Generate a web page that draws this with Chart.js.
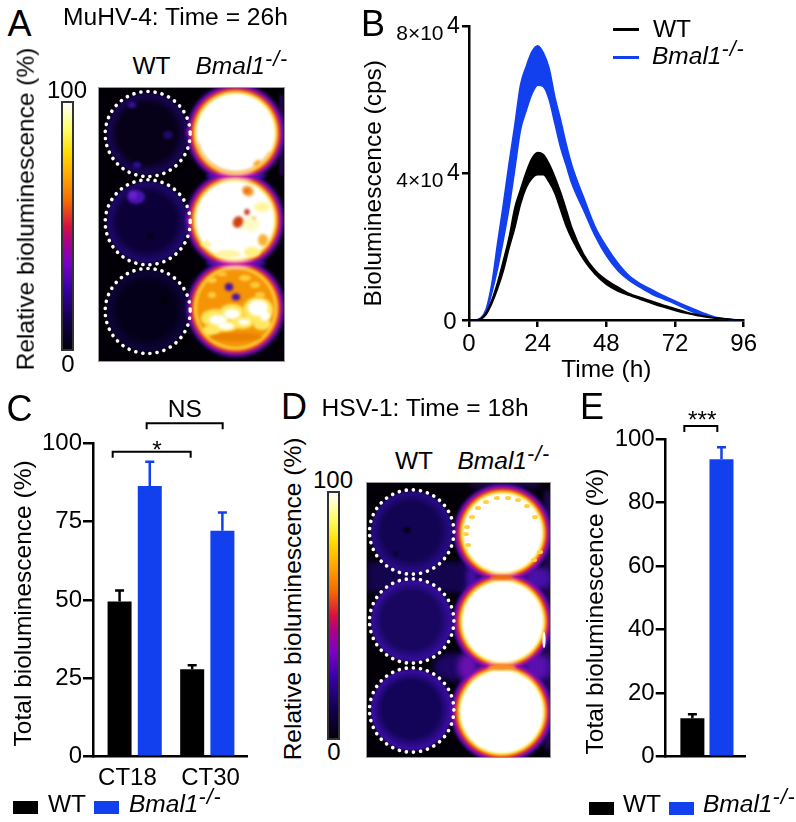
<!DOCTYPE html>
<html>
<head>
<meta charset="utf-8">
<title>Bmal1 bioluminescence</title>
<script src="https://cdn.jsdelivr.net/npm/chart.js@4"></script>
<style>
  html, body { margin: 0; padding: 0; background: #fff; }
  #page { position: relative; width: 796px; height: 822px; overflow: hidden; font-family: "Liberation Sans", Arial, sans-serif; color: #000; }
  #page canvas { position: absolute; }
  .txt { position: absolute; white-space: nowrap; line-height: 1; }
  .txt sup { position: relative; top: -0.4em; vertical-align: baseline; font-size: 0.88em; line-height: 0; letter-spacing: 1px; }
  .bar, .swatch, .line { position: absolute; }
  .bar { box-sizing: border-box; border: 2px solid #333; }
</style>
</head>
<body>
<div id="page"></div>
<script>
// panel B : 時間(h)と上下のバンド
const time = [0, 2, 4, 6, 8, 10, 12, 14, 16, 18, 20, 22, 24, 26, 28, 30, 32, 34, 36, 40, 44, 48, 52, 56, 60, 64, 68, 72, 76, 80, 84, 88, 92, 96];
const wtUpper = [0, 0, 300, 2000, 5500, 10300, 16200, 22500, 30500, 35500, 40300, 44000, 45600, 45000, 42500, 39000, 34800, 30000, 25000, 18000, 13600, 10900, 9000, 7200, 6100, 5100, 4000, 3100, 2150, 1400, 850, 450, 150, 0];
const wtLower = [0, 0, 200, 1500, 4500, 8500, 13300, 19500, 25000, 31500, 36000, 38500, 39500, 39500, 37500, 34500, 30000, 25500, 22000, 16500, 12500, 9700, 7900, 6700, 5600, 4500, 3500, 2600, 1800, 1150, 700, 350, 100, 0];
const koUpper = [0, 0, 500, 3000, 10000, 21000, 31500, 42640, 53000, 64000, 69000, 73000, 74640, 72700, 68500, 60770, 54500, 47800, 42000, 33500, 25500, 20000, 15500, 12000, 9800, 8200, 6600, 5200, 3800, 2500, 1300, 450, 120, 0];
const koLower = [0, 0, 300, 2200, 7500, 14000, 21800, 30500, 41000, 51700, 57000, 61500, 63900, 63500, 60000, 53500, 47000, 42000, 37000, 30000, 23000, 17500, 13500, 10800, 8800, 7000, 5700, 4400, 3000, 1600, 800, 350, 100, 0];
const timeTicks = [0, 24, 48, 72, 96];
const cpsTicks = [0, 40000, 80000];

// panel C
const cGroups = ['CT18', 'CT30'];
const cWt = [49.5, 27.9];
const cWtTop = [53, 29.2];
const cKo = [86.4, 72.1];
const cKoTop = [94.1, 77.9];
const cTicks = [0, 25, 50, 75, 100];

// panel E
const eWt = [12.1];
const eWtTop = [13.4];
const eKo = [93.6];
const eKoTop = [97.4];
const eTicks = [0, 20, 40, 60, 80, 100];

const BLACK = '#000000';
const BLUE = '#1340ee';
const KO_LABEL = '<i>Bmal1<sup>-/-</sup></i>';

// fire系カラーマップ
const fireStops = [[0, '#02000c'], [0.12, '#14004e'], [0.25, '#3a00a8'], [0.35, '#7a00c8'], [0.43, '#a80090'], [0.5, '#d81040'],
  [0.6, '#f56a00'], [0.7, '#ffa500'], [0.8, '#ffdc00'], [0.9, '#ffff70'], [1, '#ffffff']];

const page = document.getElementById('page');

function addText(html, x, base, size, center) {
  const el = document.createElement('div');
  el.className = 'txt';
  el.innerHTML = html;
  el.style.fontSize = size + 'px';
  el.style.left = x + 'px';
  el.style.top = (base - size * 0.8465) + 'px';
  if (center) el.style.transform = 'translateX(-50%)';
  page.appendChild(el);
}

// 回転した軸ラベル(x, y は中心)
function addRotated(html, x, y, size) {
  const el = document.createElement('div');
  el.className = 'txt';
  el.innerHTML = html;
  el.style.fontSize = size + 'px';
  el.style.left = x + 'px';
  el.style.top = y + 'px';
  el.style.transform = 'translate(-50%,-50%) rotate(-90deg)';
  page.appendChild(el);
}

function addBox(cls, x, y, w, h, bg) {
  const el = document.createElement('div');
  el.className = cls;
  el.style.cssText = `left:${x}px;top:${y}px;width:${w}px;height:${h}px;background:${bg}`;
  page.appendChild(el);
}

function addCanvas(x, y, w, h) {
  const c = document.createElement('canvas');
  c.width = w;
  c.height = h;
  c.style.left = x + 'px';
  c.style.top = y + 'px';
  page.appendChild(c);
  return c;
}

Chart.defaults.font.family = '"Liberation Sans", Arial, sans-serif';
Chart.defaults.font.size = 24.5;
Chart.defaults.color = '#000';
Chart.defaults.animation = false;
Chart.defaults.responsive = false;
Chart.defaults.plugins.legend.display = false;
Chart.defaults.plugins.tooltip.enabled = false;

// エラーバー(上側のみ)
const errorBars = {
  id: 'errorBars',
  afterDatasetsDraw(chart) {
    const { ctx, scales: { y } } = chart;
    chart.data.datasets.forEach((ds, i) => {
      chart.getDatasetMeta(i).data.forEach((bar, k) => {
        const top = y.getPixelForValue(ds.errTop[k]);
        ctx.save();
        ctx.strokeStyle = ds.backgroundColor;
        ctx.lineWidth = 2.5;
        ctx.beginPath();
        ctx.moveTo(bar.x, bar.y);
        ctx.lineTo(bar.x, top);
        ctx.moveTo(bar.x - 4.5, top);
        ctx.lineTo(bar.x + 4.5, top);
        ctx.stroke();
        ctx.restore();
      });
    });
  },
};

// 有意差のブラケット(スケールの値で指定)
const brackets = {
  id: 'brackets',
  afterDraw(chart, args, opts) {
    const { ctx, scales: { x, y } } = chart;
    opts.items.forEach((b) => {
      const x1 = x.getPixelForValue(b.from);
      const x2 = x.getPixelForValue(b.to);
      const py = y.getPixelForValue(b.level);
      ctx.save();
      ctx.strokeStyle = '#000';
      ctx.lineWidth = 2;
      ctx.beginPath();
      ctx.moveTo(x1, py + 6);
      ctx.lineTo(x1, py);
      ctx.lineTo(x2, py);
      ctx.lineTo(x2, py + 6);
      ctx.stroke();
      ctx.fillStyle = '#000';
      ctx.font = '24.5px "Liberation Sans", Arial, sans-serif';
      ctx.textAlign = 'center';
      ctx.textBaseline = 'alphabetic';
      ctx.fillText(b.label, x.getPixelForValue(b.mid), py + b.gap);
      ctx.restore();
    });
  },
};

// panel B の縦軸ラベル : 8×10 の右上に大きい 4 を載せる
const powerTicks = {
  id: 'powerTicks',
  afterDraw(chart) {
    const { ctx, scales: { y } } = chart;
    const left = chart.chartArea.left;
    ctx.save();
    ctx.fillStyle = '#000';
    ctx.textBaseline = 'alphabetic';
    y.ticks.forEach((t) => {
      const py = y.getPixelForValue(t.value);
      if (t.value === 0) {
        ctx.textAlign = 'right';
        ctx.font = '24px "Liberation Sans", Arial, sans-serif';
        ctx.fillText('0', left - 12.5, py + 8.5);
        return;
      }
      ctx.textAlign = 'right';
      ctx.font = '21px "Liberation Sans", Arial, sans-serif';
      ctx.fillText((t.value / 10000) + '×10', left - 25.5, py + 14);
      ctx.textAlign = 'left';
      ctx.font = '23px "Liberation Sans", Arial, sans-serif';
      ctx.fillText('4', left - 22, py + 7);
    });
    ctx.restore();
  },
};

function yAxisBase(ticks, width, tickLen) {
  return {
    min: ticks[0],
    max: ticks[ticks.length - 1],
    afterBuildTicks: (axis) => { axis.ticks = ticks.map((v) => ({ value: v })); },
    afterFit: (axis) => { axis.width = width; },
    border: { color: '#000', width: 2.5 },
    grid: { drawOnChartArea: false, color: '#000', lineWidth: 2.5, tickLength: tickLen },
  };
}

// ---- panel B ----
function bandSet(upper, lower, color, order) {
  const base = { borderColor: color, backgroundColor: color, borderWidth: 1.5, pointRadius: 0, cubicInterpolationMode: 'monotone', order: order, clip: false };
  return [
    { ...base, label: 'upper', data: time.map((t, i) => ({ x: t, y: upper[i] })), fill: '+1' },
    { ...base, label: 'lower', data: time.map((t, i) => ({ x: t, y: lower[i] })), fill: false },
  ];
}

new Chart(addCanvas(360, 0, 400, 385), {
  type: 'line',
  data: { datasets: [...bandSet(koUpper, koLower, BLUE, 2), ...bandSet(wtUpper, wtLower, BLACK, 1)] },
  options: {
    layout: { autoPadding: false, padding: { top: 26, right: 14.3 } },
    scales: {
      x: {
        type: 'linear',
        min: 0,
        max: 96,
        afterBuildTicks: (axis) => { axis.ticks = timeTicks.map((v) => ({ value: v })); },
        afterFit: (axis) => { axis.height = 65; },
        border: { color: '#000', width: 2.5 },
        grid: { drawOnChartArea: false, color: '#000', lineWidth: 2.5, tickLength: 7 },
        ticks: { padding: 3, maxRotation: 0, font: { size: 24 } },
        title: { display: true, text: 'Time (h)', padding: { top: 0, bottom: 0 } },
      },
      // 末尾の空白はラベルを下へずらすため
      y: {
        ...yAxisBase(cpsTicks, 109, 7),
        ticks: { display: false },
        title: { display: true, text: 'Bioluminescence (cps)   ', padding: { top: 0, bottom: 0 } },
      },
    },
  },
  plugins: [powerTicks],
});

// ---- panel C ----
function barSet(values, tops, color, label) {
  return {
    label: label,
    data: values.map((v, i) => ({ x: i, y: v })),
    errTop: tops,
    backgroundColor: color,
    categoryPercentage: 0.832,
    barPercentage: 0.795,
  };
}

new Chart(addCanvas(0, 395, 260, 427), {
  type: 'bar',
  data: { datasets: [barSet(cWt, cWtTop, BLACK, 'WT'), barSet(cKo, cKoTop, BLUE, 'Bmal1-/-')] },
  options: {
    layout: { autoPadding: false, padding: { top: 48.3, right: 13 } },
    scales: {
      x: {
        type: 'linear',
        offset: false,
        min: -0.574,
        max: 1.547,
        afterBuildTicks: (axis) => { axis.ticks = [-0.1, 1.044].map((v) => ({ value: v })); },
        afterFit: (axis) => { axis.height = 65.3; },
        border: { color: '#000', width: 2.5 },
        grid: { offset: false, drawOnChartArea: false, drawTicks: false },
        ticks: { padding: 7, maxRotation: 0, font: { size: 24 }, callback: (v, i) => cGroups[i] },
      },
      y: {
        ...yAxisBase(cTicks, 93, 10),
        ticks: { padding: 1, font: { size: 24 } },
        title: { display: true, text: 'Total bioluminescence (%) ', padding: { top: 10, bottom: 0 } },
      },
    },
    plugins: {
      brackets: {
        items: [
          { from: 0.165, to: 1.212, mid: 0.69, level: 106.4, label: 'NS', gap: -6.6 },
          { from: -0.303, to: 0.771, mid: 0.306, level: 97.3, label: '*', gap: 6 },
        ],
      },
    },
  },
  plugins: [errorBars, brackets],
});

// ---- panel E ----
const eSets = [barSet(eWt, eWtTop, BLACK, 'WT'), barSet(eKo, eKoTop, BLUE, 'Bmal1-/-')];
eSets.forEach((s) => { s.categoryPercentage = 0.734; s.barPercentage = 0.825; });

new Chart(addCanvas(570, 395, 226, 427), {
  type: 'bar',
  data: { datasets: eSets },
  options: {
    layout: { autoPadding: false, padding: { top: 44, right: 51 } },
    scales: {
      x: {
        type: 'linear',
        offset: false,
        min: -0.52,
        max: 0.48,
        afterBuildTicks: (axis) => { axis.ticks = [{ value: 0 }]; },
        afterFit: (axis) => { axis.height = 65.3; },
        border: { color: '#000', width: 2.5 },
        grid: { offset: false, drawOnChartArea: false, drawTicks: false },
        ticks: { display: false },
      },
      y: {
        ...yAxisBase(eTicks, 95.7, 10),
        ticks: { padding: 1, font: { size: 24 } },
        title: { display: true, text: 'Total bioluminescence (%)    ', padding: { top: 12, bottom: 0 } },
      },
    },
    plugins: {
      brackets: { items: [{ from: -0.285, to: 0.131, mid: -0.058, level: 104.1, label: '***', gap: 1.7 }] },
    },
  },
  plugins: [errorBars, brackets],
});

// ---- 発光プレートの画像(A, D) ----
function fireCss() {
  return 'linear-gradient(to top,' + fireStops.map((s) => `${s[1]} ${s[0] * 100}%`).join(',') + ')';
}

function blob(ctx, x, y, rx, ry, color, rot) {
  ctx.fillStyle = color;
  ctx.beginPath();
  ctx.ellipse(x, y, rx, ry, rot || 0, 0, Math.PI * 2);
  ctx.fill();
}

function dimWell(ctx, x, y, r, mid, edge) {
  const g = ctx.createRadialGradient(x - 3, y - 3, 0, x, y, r);
  g.addColorStop(0, mid);
  g.addColorStop(0.7, mid);
  g.addColorStop(1, edge);
  ctx.fillStyle = g;
  ctx.beginPath();
  ctx.arc(x, y, r, 0, Math.PI * 2);
  ctx.fill();
}

// coreEnd より外側が 黄→橙→赤→紫 の縁になる
function brightWell(ctx, x, y, r, core) {
  const R = r + 9;
  const at = (d) => (r + d) / R;
  const g = ctx.createRadialGradient(x, y, 0, x, y, R);
  g.addColorStop(0, core);
  g.addColorStop(at(-3.5), core);
  g.addColorStop(at(-2), '#fff07a');
  g.addColorStop(at(-0.5), '#ffb000');
  g.addColorStop(at(1), '#f0600c');
  g.addColorStop(at(2.5), '#c81060');
  g.addColorStop(at(5), '#6a10c8');
  g.addColorStop(1, 'rgba(50,0,140,0)');
  ctx.fillStyle = g;
  ctx.beginPath();
  ctx.arc(x, y, R, 0, Math.PI * 2);
  ctx.fill();
}

function dashedRing(ctx, x, y, r) {
  ctx.strokeStyle = '#fff';
  ctx.lineWidth = 3.6;
  ctx.lineCap = 'round';
  ctx.setLineDash([0.1, 7.05]);
  ctx.beginPath();
  ctx.arc(x, y, r, 0, Math.PI * 2);
  ctx.stroke();
  ctx.setLineDash([]);
}

function paintPlateA() {
  const ctx = addCanvas(98, 87, 187, 275).getContext('2d');
  ctx.fillStyle = '#020006';
  ctx.fillRect(0, 0, 187, 275);
  ctx.translate(-98, -87);
  ctx.filter = 'blur(1.5px)';

  dimWell(ctx, 147.7, 134, 41, '#060018', '#1c0660');
  dimWell(ctx, 147.7, 222.3, 41, '#0c0038', '#220a78');
  dimWell(ctx, 147.7, 311, 41, '#04001a', '#100440');
  blob(ctx, 132, 105, 4, 3, '#3a10a0');
  blob(ctx, 137, 165, 4, 3, '#3010a0');
  blob(ctx, 168, 135, 5, 4, '#220a70');
  blob(ctx, 136, 197, 9, 7, '#4a14b0');
  blob(ctx, 133, 195, 4, 4, '#6a20d0');
  blob(ctx, 188, 132, 1.5, 3, '#c01060');
  blob(ctx, 188, 220, 1.5, 3, '#c01060');
  blob(ctx, 150, 236, 3, 3, '#030010');
  blob(ctx, 165, 300, 4, 4, '#020008');

  // 右端の帯とウェル間のにじみ
  ctx.fillStyle = 'rgba(80,16,176,0.55)';
  ctx.fillRect(280, 95, 3, 80);
  blob(ctx, 236, 176, 30, 5, '#3410a0');
  blob(ctx, 236, 263, 30, 5, '#3410a0');

  ctx.globalCompositeOperation = 'lighten';
  brightWell(ctx, 235.7, 133, 42, '#ffffff');
  brightWell(ctx, 235, 220, 42, '#ffffff');
  brightWell(ctx, 235.7, 308, 42, '#f59400');
  ctx.globalCompositeOperation = 'source-over';

  // 1段目の内側の縁
  ctx.strokeStyle = 'rgba(245,140,20,0.8)';
  ctx.lineWidth = 1.5;
  ctx.beginPath();
  ctx.arc(235.7, 133, 39, 0.5, 2.9);
  ctx.stroke();
  blob(ctx, 257, 163, 4, 2, '#f8a010', -0.6);

  // 2段目の斑点
  blob(ctx, 248, 191, 6, 5, '#f0a030', 0.5);
  blob(ctx, 247, 191, 3, 2, '#f06010');
  blob(ctx, 262, 207, 8, 5, '#fff6a0');
  blob(ctx, 250, 224, 10, 7, '#fffbc8');
  blob(ctx, 263, 240, 5, 6, '#f8b030');
  blob(ctx, 238, 222, 5, 6, '#d04010', 0.5);
  blob(ctx, 247, 212, 2.6, 3, '#c03010');
  blob(ctx, 254, 218, 1.4, 1.4, '#f0a020');
  blob(ctx, 228, 254, 13, 4, '#fff4a0');
  blob(ctx, 252, 252, 8, 5, '#fff080');
  blob(ctx, 206, 244, 5, 3, '#fff090');

  // 3段目 : 橙の上に白〜黄の塊
  [[215, 318, 14, 9], [232, 312, 12, 8], [258, 310, 15, 13], [242, 322, 12, 7], [212, 330, 9, 6], [225, 326, 12, 6], [262, 324, 9, 6]].forEach((p) => {
    blob(ctx, p[0], p[1], p[2], p[3], '#ffe860');
  });
  [[218, 320, 9, 5], [232, 314, 8, 5], [258, 308, 10, 8], [226, 326, 8, 3.5], [244, 322, 6, 3], [265, 316, 5, 5]].forEach((p) => {
    blob(ctx, p[0], p[1], p[2], p[3], '#ffffff');
  });
  [[212, 280, 5, 3], [222, 274, 5, 2], [245, 278, 6, 3], [255, 285, 5, 3], [212, 295, 4, 3], [260, 295, 5, 3]].forEach((p) => {
    blob(ctx, p[0], p[1], p[2], p[3], '#ffd040');
  });
  blob(ctx, 236, 337, 26, 4, '#e88000');
  blob(ctx, 229, 287, 4.2, 4, '#4a10a8');
  blob(ctx, 236, 297, 4.2, 3.6, '#4a10a8');
  ctx.filter = 'none';

  dashedRing(ctx, 147.7, 134, 42.5);
  dashedRing(ctx, 147.7, 222.3, 42.5);
  dashedRing(ctx, 147.7, 311, 42.5);

  ctx.strokeStyle = '#999';
  ctx.lineWidth = 1;
  ctx.strokeRect(98.5, 87.5, 186, 274);
}

function paintPlateD() {
  const ctx = addCanvas(366, 482, 185, 276).getContext('2d');
  ctx.fillStyle = '#020006';
  ctx.fillRect(0, 0, 185, 276);
  ctx.translate(-366, -482);
  ctx.filter = 'blur(3px)';

  // ウェル間のにじみ
  blob(ctx, 455, 578, 22, 12, '#14044e');
  blob(ctx, 455, 667, 22, 14, '#1c0666');
  blob(ctx, 468, 578, 10, 12, '#4a10b0');
  blob(ctx, 468, 667, 10, 14, '#6a10b0');
  blob(ctx, 538, 578, 14, 12, '#4a10a8');
  blob(ctx, 538, 667, 14, 14, '#5a10b0');
  ctx.fillStyle = '#3a10a0';
  ctx.fillRect(546, 490, 4, 260);
  ctx.fillRect(470, 483, 70, 3);
  ctx.fillStyle = '#14044e';
  ctx.fillRect(367, 562, 100, 30);

  ctx.filter = 'blur(1px)';
  dimWell(ctx, 411.7, 532, 41, '#120452', '#2c0c90');
  dimWell(ctx, 411.7, 621, 41, '#180660', '#3a0ea8');
  dimWell(ctx, 411.7, 710, 41, '#13045a', '#400eb0');
  blob(ctx, 407, 530, 3, 3, '#020010');
  blob(ctx, 396, 554, 2, 2, '#060020');

  ctx.globalCompositeOperation = 'lighten';
  brightWell(ctx, 502.7, 533, 42, '#ffffff');
  brightWell(ctx, 502.7, 621.7, 43, '#ffffff');
  brightWell(ctx, 501.7, 711.7, 44, '#ffffff');
  ctx.globalCompositeOperation = 'source-over';
  blob(ctx, 502, 577.5, 12, 2.5, '#ee7010');
  blob(ctx, 502, 667, 14, 3, '#f89020');

  // 1段目の縁の黄色い粒
  ctx.filter = 'blur(0.6px)';
  [[467, 527], [466, 534], [468, 545], [472, 517], [478, 508], [486, 502], [497, 498], [508, 498], [518, 500], [527, 506], [535, 517], [540, 552], [534, 560]].forEach((p) => {
    blob(ctx, p[0], p[1], 3, 2, '#ffd040');
  });
  ctx.filter = 'none';
  blob(ctx, 544, 640, 1.6, 8, '#ffffff');

  dashedRing(ctx, 411.7, 532, 42.2);
  dashedRing(ctx, 411.7, 621, 42.2);
  dashedRing(ctx, 411.7, 710, 42.2);

  ctx.strokeStyle = '#999';
  ctx.lineWidth = 1;
  ctx.strokeRect(366.5, 482.5, 184, 275);
}

paintPlateA();
paintPlateD();

addBox('bar', 61, 100.5, 13, 250, fireCss());
addBox('bar', 327, 490.5, 13, 249, fireCss());

// ---- 文字 ----
addText('A', 7.5, 36, 36);
addText('B', 361, 36, 36);
addText('C', 6.5, 421, 36);
addText('D', 281, 419, 36);
addText('E', 580, 419, 36);

addText('MuHV-4: Time = 26h', 63, 26, 24.6);
addText('HSV-1: Time = 18h', 321.5, 416.5, 24.6);
addText('WT', 132.5, 75, 24.5);
addText(KO_LABEL, 195.5, 75, 24.5);
addText('WT', 395, 470, 24.5);
addText(KO_LABEL, 457.5, 470, 24.5);
addText('100', 67, 98, 24, true);
addText('0', 68, 372, 24, true);
addText('100', 333, 488, 24, true);
addText('0', 334, 760.5, 24, true);
addRotated('Relative bioluminescence (%)', 26, 209, 24.5);
addRotated('Relative bioluminescence (%)', 292.5, 598.5, 24.5);

// 凡例
addBox('line', 613, 27.5, 26, 3, BLACK);
addBox('line', 613, 56, 26, 3, BLUE);
addText('WT', 653, 37.5, 24.5);
addText(KO_LABEL, 652, 65, 24.5);

addBox('swatch', 13, 801, 25, 13, BLACK);
addText('WT', 48, 813, 24.5);
addBox('swatch', 94, 801, 25, 13, BLUE);
addText(KO_LABEL, 129, 813, 24.5);

addBox('swatch', 588.5, 801.5, 25, 13, BLACK);
addText('WT', 623, 813, 24.5);
addBox('swatch', 669, 801.5, 25, 13, BLUE);
addText(KO_LABEL, 703, 813, 24.5);
</script>
</body>
</html>
